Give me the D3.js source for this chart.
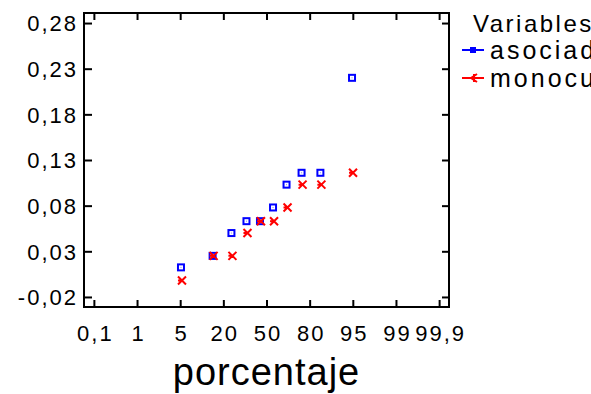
<!DOCTYPE html>
<html lang="es">
<head>
<meta charset="utf-8">
<script src="https://cdn.jsdelivr.net/npm/d3@7"></script>
<style>
  body {margin: 0; background: #fff;}
  text {font-family: "Liberation Sans", Arial, sans-serif; fill: #000;}
  .axis path, .axis line {stroke: #000; stroke-width: 2px;}
</style>
</head>
<body>
<script>
    // percentiles used as plotting positions (i-0.5)/n
    const percents = [5, 15, 25, 35, 45, 55, 65, 75, 85, 95];
    const asociada = [0.0124, 0.025, 0.050, 0.063, 0.063, 0.078, 0.103, 0.116, 0.116, 0.22];
    const monocular = [-0.002, 0.025, 0.025, 0.050, 0.063, 0.063, 0.078, 0.103, 0.103, 0.116];
    const xTickLabels = ["0,1", "1", "5", "20", "50", "80", "95", "99", "99,9"];
    const yTicks = [-0.02, 0.03, 0.08, 0.13, 0.18, 0.23, 0.28];
    const seriesNames = ["asociad", "monocu"];

    const W = 591, H = 394;
    const plot = {left: 84, right: 449, top: 13, bottom: 307};

    // inverse normal cdf (Acklam)
    function probit(p) {
        const a = [-39.69683028665376, 220.9460984245205, -275.9285104469687, 138.3577518672690, -30.66479806614716, 2.506628277459239];
        const b = [-54.47609879822406, 161.5858368580409, -155.6989798598866, 66.80131188771972, -13.28068155288572];
        const c = [-0.007784894002430293, -0.3223964580411365, -2.400758277161838, -2.549732539343734, 4.374664141464968, 2.938163982698783];
        const d = [0.007784695709041462, 0.3224671290700398, 2.445134137142996, 3.754408661907416];
        const pl = 0.02425;
        let q, r;
        if (p < pl) {
            q = Math.sqrt(-2 * Math.log(p));
            return (((((c[0]*q+c[1])*q+c[2])*q+c[3])*q+c[4])*q+c[5]) / ((((d[0]*q+d[1])*q+d[2])*q+d[3])*q+1);
        } else if (p <= 1 - pl) {
            q = p - 0.5; r = q * q;
            return (((((a[0]*r+a[1])*r+a[2])*r+a[3])*r+a[4])*r+a[5])*q / (((((b[0]*r+b[1])*r+b[2])*r+b[3])*r+b[4])*r+1);
        }
        q = Math.sqrt(-2 * Math.log(1 - p));
        return -(((((c[0]*q+c[1])*q+c[2])*q+c[3])*q+c[4])*q+c[5]) / ((((d[0]*q+d[1])*q+d[2])*q+d[3])*q+1);
    }

    const x = d3.scaleLinear().domain([-3.51, 3.51]).range([plot.left, plot.right]);
    const y = d3.scaleLinear().domain([-0.031, 0.291]).range([plot.bottom, plot.top]);
    // labelled ticks are evenly spaced on the z axis
    const zStep = 0.83;
    const xt = d3.scalePoint().domain(xTickLabels)
                 .range([x(-4 * zStep), x(4 * zStep)]);

    const fmt = v => d3.format(".2f")(v).replace(".", ",").replace("\u2212", "-");

    const svg = d3.select("body").append("svg")
                  .attr("width", W).attr("height", H);

    // bottom axis with labels
    const gx = svg.append("g").attr("class", "axis")
        .attr("transform", `translate(0,${plot.bottom})`)
        .call(d3.axisBottom(xt).tickSizeInner(-7).tickSizeOuter(0));
    gx.select(".domain").attr("d", `M${plot.left - 1},0H${plot.right + 1}`);
    gx.selectAll("text").attr("y", 34).attr("dy", null).attr("dx", 1)
      .style("font-size", "22px").style("letter-spacing", "2px");

    // top axis, ticks only
    const gt = svg.append("g").attr("class", "axis")
        .attr("transform", `translate(0,${plot.top})`)
        .call(d3.axisTop(xt).tickSizeInner(-7).tickSizeOuter(0).tickFormat(""));
    gt.select(".domain").attr("d", `M${plot.left - 1},0H${plot.right + 1}`);

    // left axis with labels
    const gy = svg.append("g").attr("class", "axis")
        .attr("transform", `translate(${plot.left},0)`)
        .call(d3.axisLeft(y).tickValues(yTicks).tickFormat(fmt).tickSizeInner(-8).tickSizeOuter(0));
    gy.select(".domain").attr("d", `M0,${plot.top}V${plot.bottom}`);
    gy.selectAll("text").attr("x", -6).attr("dy", "0.36em")
      .style("font-size", "22px").style("letter-spacing", "2px");

    // right axis, ticks only
    const gr = svg.append("g").attr("class", "axis")
        .attr("transform", `translate(${plot.right},0)`)
        .call(d3.axisRight(y).tickValues(yTicks).tickFormat("").tickSizeInner(-7).tickSizeOuter(0));
    gr.select(".domain").attr("d", `M0,${plot.top}V${plot.bottom}`);

    // x axis title
    svg.append("text")
       .attr("x", (plot.left + plot.right) / 2).attr("y", 385)
       .attr("text-anchor", "middle")
       .style("font-size", "38px").style("letter-spacing", "1px")
       .text("porcentaje");

    // markers
    const blueSquare = (g) => {
        g.append("rect").attr("x", -3).attr("y", -3).attr("width", 6).attr("height", 6)
         .attr("fill", "#fff").attr("stroke", "#0000ff").attr("stroke-width", 2);
        g.append("rect").attr("x", -0.5).attr("y", -0.5).attr("width", 1).attr("height", 1)
         .attr("fill", "#8080ff");
    };
    const redMark = (g) => {
        g.append("path").attr("d", "M-4,-4L4,4M-4,4L4,-4M-4,0L0,0")
         .attr("fill", "none").attr("stroke", "#ff0000").attr("stroke-width", 2);
    };

    const zs = percents.map(p => probit(p / 100));

    svg.append("g").selectAll("g")
       .data(asociada).join("g")
       .attr("transform", (d, i) => `translate(${x(zs[i])},${y(d)})`)
       .each(function() { blueSquare(d3.select(this)); });

    svg.append("g").selectAll("g")
       .data(monocular).join("g")
       .attr("transform", (d, i) => `translate(${x(zs[i]) + 1},${y(d)})`)
       .each(function() { redMark(d3.select(this)); });

    // legend (clipped at the right edge, as in the original)
    const leg = svg.append("g");
    leg.append("text").attr("x", 473).attr("y", 32)
       .style("font-size", "24px").style("letter-spacing", "2.5px").text("Variables");
    const colors = ["#0000ff", "#ff0000"];
    seriesNames.forEach((name, i) => {
        const ly = 50 + i * 28;
        const row = leg.append("g");
        row.append("line").attr("x1", 462).attr("x2", 484).attr("y1", ly).attr("y2", ly)
           .attr("stroke", colors[i]).attr("stroke-width", 2);
        if (i === 0) {
            row.append("rect").attr("x", 470).attr("y", ly - 3).attr("width", 6).attr("height", 6)
               .attr("fill", colors[i]);
        } else {
            row.append("path").attr("d", `M477,${ly - 4}L471,${ly}L477,${ly + 4}M474,${ly - 4}L474,${ly + 4}`)
               .attr("fill", "none").attr("stroke", colors[i]).attr("stroke-width", 2);
        }
        row.append("text").attr("x", 490).attr("y", ly + 9)
           .style("font-size", "25px").style("letter-spacing", "3px").text(name);
    });
</script>
</body>
</html>
